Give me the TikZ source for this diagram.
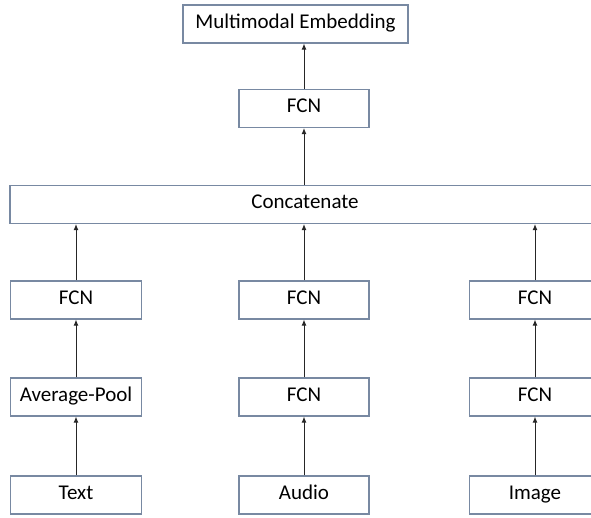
\documentclass[tikz,border=0pt]{standalone}
\usepackage{fontspec}
\setmainfont{Carlito}
\usetikzlibrary{arrows.meta}
\definecolor{boxline}{RGB}{120,137,162}
\tikzset{
  blk/.style={draw=boxline, line width=1.2pt, fill=white, minimum height=38pt, inner sep=0pt,
    text height=13pt, text depth=5pt, font=\fontsize{21}{24}\selectfont},
  up/.style={-{Latex[length=6pt,width=5pt]}, line width=0.9pt, black!85}
}
\begin{document}
\begin{tikzpicture}[x=1pt,y=-1pt]
    \clip (0,0) rectangle (591,517);
    \node[blk, minimum width=225pt] (mm) at (295.5,24){Multimodal Embedding};
    \node[blk, minimum width=130pt] (fcn0) at (304,108.5){FCN};
    \node[blk, minimum width=590pt] (cat) at (305,204.5){Concatenate};
    \node[blk, minimum width=131pt] (fcn1) at (76,300){FCN};
    \node[blk, minimum width=131pt] (pool) at (76,397){Average-Pool};
    \node[blk, minimum width=131pt] (txt) at (76,495){Text};
    \draw[up](txt) -- (pool);
    \draw[up](pool) -- (fcn1);
    \node[blk, minimum width=130pt] (fcn2) at (304,300){FCN};
    \node[blk, minimum width=130pt] (fcn3) at (304,397){FCN};
    \node[blk, minimum width=130pt] (aud) at (304,495){Audio};
    \draw[up](aud) -- (fcn3);
    \draw[up](fcn3) -- (fcn2);
    \node[blk, minimum width=131pt] (fcn4) at (535,300){FCN};
    \node[blk, minimum width=131pt] (fcn5) at (535,397){FCN};
    \node[blk, minimum width=131pt] (img) at (535,495){Image};
    \draw[up](img) -- (fcn5);
    \draw[up](fcn5) -- (fcn4);
    \draw[up](fcn1) -- (fcn1 |- cat.south);
    \draw[up](fcn2) -- (fcn2 |- cat.south);
    \draw[up](fcn4) -- (fcn4 |- cat.south);
    \draw[up](fcn0 |- cat.north) -- (fcn0);
    \draw[up](fcn0) -- (fcn0 |- mm.south);
  \end{tikzpicture}
\end{document}
